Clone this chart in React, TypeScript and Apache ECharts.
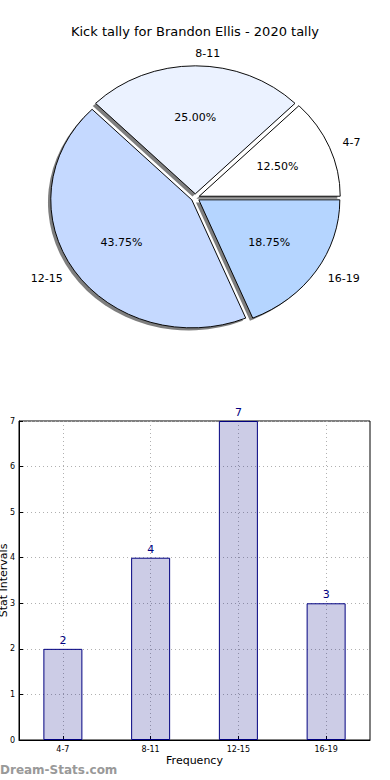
import React, { useEffect, useRef } from "react";
import * as echarts from "echarts";

const titleText = "Kick tally for Brandon Ellis - 2020 tally";
const categories = ["4-7", "8-11", "12-15", "16-19"];
const counts = [2, 4, 7, 3];
const pieColors = ["#ffffff", "#ebf2ff", "#c5d9ff", "#b5d5ff"];
const yTicks = { min: 0, max: 7, interval: 1 };

const PIE = { cx: 195.3, cy: 197.7, rx: 141, ry: 128, explode: 0.03 };
const FONT = "DejaVu Sans";

export default function App() {
  const ref = useRef<HTMLDivElement>(null);
  useEffect(() => {
    if (!ref.current) return;
    const chart = echarts.init(ref.current, undefined, { renderer: "svg" });
    const total = counts.reduce((a, b) => a + b, 0);

    const renderSlice = (params: any, api: any) => {
      const i = params.dataIndex;
      const v = api.value(0) as number;
      const before = counts.slice(0, i).reduce((a, b) => a + b, 0);
      const t1 = (before / total) * Math.PI * 2;
      const t2 = ((before + v) / total) * Math.PI * 2;
      const tm = (t1 + t2) / 2;
      const c = Math.cos(tm);
      const s = Math.sin(tm);
      const ox = PIE.cx + PIE.explode * PIE.rx * c;
      const oy = PIE.cy - PIE.explode * PIE.ry * s;
      const shape = { cx: 0, cy: 0, r0: 0, r: PIE.rx, startAngle: -t2, endAngle: -t1, clockwise: true };
      const sy = PIE.ry / PIE.rx;
      return {
        type: "group",
        children: [
          {
            type: "sector",
            x: ox - 0.02 * PIE.rx,
            y: oy + 0.02 * PIE.ry,
            scaleY: sy,
            shape,
            style: { fill: "rgba(40,40,40,0.6)", stroke: "none" },
            z2: 0,
          },
          {
            type: "sector",
            x: ox,
            y: oy,
            scaleY: sy,
            shape,
            style: { fill: pieColors[i], stroke: "#000", lineWidth: 1, strokeNoScale: true },
            z2: 5,
          },
          {
            type: "text",
            x: ox + 1.1 * PIE.rx * c,
            y: oy - 1.1 * PIE.ry * s,
            style: {
              text: categories[i],
              fontFamily: FONT,
              fontSize: 11,
              fill: "#000",
              align: c > 0 ? "left" : "right",
              verticalAlign: "middle",
            },
            z2: 10,
          },
          {
            type: "text",
            x: ox + 0.6 * PIE.rx * c,
            y: oy - 0.6 * PIE.ry * s,
            style: {
              text: ((v / total) * 100).toFixed(2) + "%",
              fontFamily: FONT,
              fontSize: 11,
              fill: "#000",
              align: "center",
              verticalAlign: "middle",
            },
            z2: 10,
          },
        ],
      };
    };

    chart.setOption({
      animation: false,
      textStyle: { fontFamily: FONT },
      title: {
        text: titleText,
        left: "center",
        top: 20,
        textStyle: { fontFamily: FONT, fontSize: 13, fontWeight: "normal", color: "#000" },
      },
      grid: {
        left: 19,
        right: 20,
        top: 421,
        bottom: 40,
        containLabel: false,
        outerBoundsMode: "none",
        show: true,
        borderColor: "#000",
        borderWidth: 1,
        backgroundColor: "transparent",
      },
      xAxis: {
        type: "category",
        data: categories,
        name: "Frequency",
        nameLocation: "middle",
        nameGap: 15,
        nameMoveOverlap: false,
        nameTextStyle: { fontFamily: FONT, fontSize: 11, color: "#000", verticalAlign: "top" },
        axisLine: { lineStyle: { color: "#000" } },
        axisTick: { show: true, inside: true, length: 4, alignWithLabel: true, lineStyle: { color: "#000" } },
        axisLabel: { fontFamily: FONT, fontSize: 8, color: "#000", margin: 5 },
        splitLine: { show: true, alignWithLabel: true, lineStyle: { type: [1, 3], color: "#b0b0b0" } },
      },
      yAxis: {
        type: "value",
        min: yTicks.min,
        max: yTicks.max,
        interval: yTicks.interval,
        name: "Stat Intervals",
        nameLocation: "middle",
        nameGap: 10,
        nameMoveOverlap: false,
        nameTextStyle: { fontFamily: FONT, fontSize: 11, color: "#000" },
        axisLine: { show: true, lineStyle: { color: "#000" } },
        axisTick: { show: true, inside: true, length: 4, lineStyle: { color: "#000" } },
        axisLabel: { fontFamily: FONT, fontSize: 8, color: "#000", margin: 4 },
        splitLine: { show: true, lineStyle: { type: [1, 3], color: "#b0b0b0" } },
      },
      series: [
        {
          type: "custom",
          coordinateSystem: "none",
          data: counts.map((v) => [v]),
          renderItem: renderSlice,
          silent: true,
          z: 2,
        },
        {
          type: "bar",
          data: counts,
          barWidth: 39,
          itemStyle: {
            color: "rgba(0,0,128,0.2)",
            borderColor: "#000080",
            borderWidth: 1,
          },
          label: {
            show: true,
            position: "top",
            fontFamily: FONT,
            fontSize: 11,
            color: "#000080",
            distance: 3,
          },
          emphasis: { disabled: true },
          silent: true,
        },
      ],
      graphic: [
        {
          type: "text",
          left: 0,
          top: 764,
          style: {
            text: "Dream-Stats.com",
            fontFamily: FONT,
            fontSize: 12,
            fontWeight: 600,
            fill: "#999999",
          },
        },
      ],
    });
    return () => chart.dispose();
  }, []);
  return (
    <div
      ref={ref}
      style={{ position: "absolute", left: 0, top: 0, width: 390, height: 780, background: "#fff" }}
    />
  );
}
